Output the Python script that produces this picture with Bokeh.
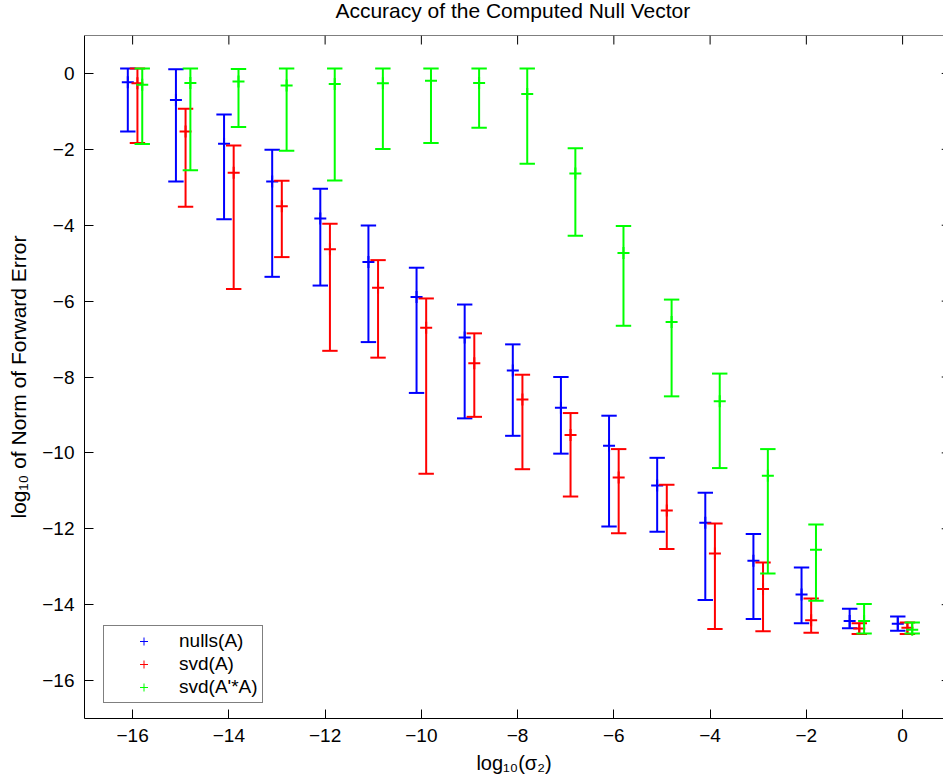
import math
from bokeh.plotting import figure
from bokeh.models import Range1d, LinearAxis, FixedTicker, Legend, LegendItem, ColumnDataSource, Span, Label
from bokeh.embed import file_html
from bokeh.resources import INLINE

# ---- data (log10 values) ----
log_sigma = [-16, -15, -14, -13, -12, -11, -10, -9, -8, -7, -6, -5, -4, -3, -2, -1, 0]

nulls_mid = [-0.23, -0.70, -1.85, -2.85, -3.82, -4.97, -5.89, -6.96, -7.83, -8.81, -9.81, -10.86, -11.84, -12.84, -13.73, -14.43, -14.50]
nulls_hi  = [0.13, 0.11, -1.08, -2.01, -3.04, -4.01, -5.12, -6.09, -7.14, -8.00, -9.02, -10.13, -11.05, -12.14, -13.02, -14.11, -14.31]
nulls_lo  = [-1.53, -2.85, -3.84, -5.36, -5.59, -7.08, -8.42, -9.09, -9.55, -10.02, -11.94, -12.08, -13.88, -14.38, -14.49, -14.62, -14.69]

svd_mid = [-0.26, -1.53, -2.62, -3.50, -4.63, -5.65, -6.70, -7.64, -8.59, -9.53, -10.65, -11.52, -12.65, -13.59, -14.41, -14.63, -14.61]
svd_hi  = [0.13, -0.93, -1.90, -2.83, -3.96, -4.92, -5.93, -6.85, -7.94, -8.95, -9.90, -10.84, -11.86, -12.89, -13.84, -14.49, -14.47]
svd_lo  = [-1.83, -3.51, -5.68, -4.84, -7.31, -7.49, -10.55, -9.05, -10.43, -11.15, -12.12, -12.53, -14.64, -14.70, -14.74, -14.77, -14.77]

svdata_mid = [-0.30, -0.25, -0.21, -0.32, -0.28, -0.26, -0.19, -0.25, -0.54, -2.64, -4.73, -6.55, -8.64, -10.60, -12.55, -14.43, -14.66]
svdata_hi  = [0.13, 0.13, 0.12, 0.13, 0.13, 0.13, 0.13, 0.13, 0.13, -1.97, -4.02, -5.96, -7.91, -9.90, -11.89, -13.98, -14.47]
svdata_lo  = [-1.86, -2.55, -1.41, -2.04, -2.82, -1.99, -1.83, -1.43, -2.38, -4.28, -6.65, -8.51, -10.40, -13.18, -13.90, -14.76, -14.76]

labels = ["nulls(A)", "svd(A)", "svd(A'*A)"]
colors = ["#0000ff", "#ff0000", "#00ff00"]
offsets = [-0.1, 0.1, 0.2]
cap_half = 0.16

x_ticks = [-16, -14, -12, -10, -8, -6, -4, -2, 0]
y_ticks = [-16, -14, -12, -10, -8, -6, -4, -2, 0]

TITLE = "Accuracy of the Computed Null Vector"
X_LABEL = "log\u2081\u2080(\u03c3\u2082)"
Y_LABEL = "log\u2081\u2080 of Norm of Forward Error"

X_MIN, X_MAX = -17, 0.85     # visible part of the x axis (box edge at 1 is cropped)
X_BOX_RIGHT = 1
X_CENTER = -8.0              # centre of the full box (-17 .. 1), where the title sits
Y_MIN, Y_MAX = -17, 1

FONT = "Liberation Sans"

p = figure(width=943, height=776, output_backend="svg", toolbar_location=None, title=None,
           x_range=Range1d(X_MIN, X_MAX), y_range=Range1d(Y_MIN, Y_MAX),
           min_border_left=84, min_border_right=0, min_border_top=35, min_border_bottom=58,
           x_axis_location=None, y_axis_location=None)
p.grid.visible = False
p.outline_line_color = None
p.background_fill_color = "white"
p.border_fill_color = "white"

# title as a text placed in the panel above the frame
p.add_layout(Label(x=X_CENTER - 0.1, y=25, x_units="data", y_units="screen", text=TITLE,
                   text_align="center", text_baseline="middle", text_font=FONT,
                   text_font_size="21px", text_color="black"), "above")


def style_axis(ax):
    ax.major_tick_in = 9
    ax.major_tick_out = 0
    ax.minor_tick_line_color = None
    ax.axis_line_color = "black"
    ax.major_tick_line_color = "black"
    ax.major_label_text_font = FONT
    ax.major_label_text_font_size = "19px"
    ax.major_label_text_color = "black"
    ax.axis_label_text_font = FONT
    ax.axis_label_text_font_style = "normal"
    ax.axis_label_text_font_size = "20px"
    ax.axis_label_text_color = "black"


xb = LinearAxis(ticker=FixedTicker(ticks=x_ticks), axis_label=X_LABEL)
style_axis(xb)
xb.major_label_standoff = 10
xb.axis_label_standoff = 7
p.add_layout(xb, "below")

yl = LinearAxis(ticker=FixedTicker(ticks=y_ticks), axis_label=Y_LABEL)
style_axis(yl)
yl.axis_label_text_font_size = "21px"
yl.major_label_standoff = 10
yl.axis_label_standoff = 9
p.add_layout(yl, "left")

# top box edge with inward ticks, and the inward ticks of the (cropped) right edge
p.add_layout(Span(location=Y_MAX, dimension="width", line_color="black", line_width=1))
p.ray(x=x_ticks, y=[Y_MAX] * len(x_ticks), length=9, length_units="screen",
      angle=-math.pi / 2, line_color="black", line_width=1)
p.ray(x=[X_BOX_RIGHT] * len(y_ticks), y=y_ticks, length=9, length_units="screen",
      angle=math.pi, line_color="black", line_width=1)

series = [(nulls_mid, nulls_hi, nulls_lo), (svd_mid, svd_hi, svd_lo), (svdata_mid, svdata_hi, svdata_lo)]
items = []
for (mid, hi, lo), col, off, lab in zip(series, colors, offsets, labels):
    xs = [v + off for v in log_sigma]
    src = ColumnDataSource(dict(x=xs, x0=[v - cap_half for v in xs], x1=[v + cap_half for v in xs],
                                mid=mid, hi=hi, lo=lo))
    p.segment(x0="x", y0="lo", x1="x", y1="hi", source=src, line_color=col, line_width=2)
    p.segment(x0="x0", y0="hi", x1="x1", y1="hi", source=src, line_color=col, line_width=2)
    p.segment(x0="x0", y0="lo", x1="x1", y1="lo", source=src, line_color=col, line_width=2)
    p.scatter(x="x", y="mid", source=src, marker="cross", size=12, line_color=col, line_width=2)
    dummy = p.scatter(x=[float("nan")], y=[float("nan")], marker="cross", size=13,
                      line_color=col, line_width=1)
    items.append(LegendItem(label=lab, renderers=[dummy]))

legend = Legend(items=items, location=(19, 15))
legend.border_line_color = "black"
legend.border_line_width = 1
legend.background_fill_color = "white"
legend.background_fill_alpha = 1
legend.label_text_font = FONT
legend.label_text_font_size = "19px"
legend.label_text_color = "black"
legend.glyph_width = 71
legend.glyph_height = 20
legend.label_height = 20
legend.spacing = 1
legend.padding = 4
legend.margin = 0
legend.label_standoff = 0
p.add_layout(legend, "center")

open("out.html", "w").write(file_html(p, INLINE))
